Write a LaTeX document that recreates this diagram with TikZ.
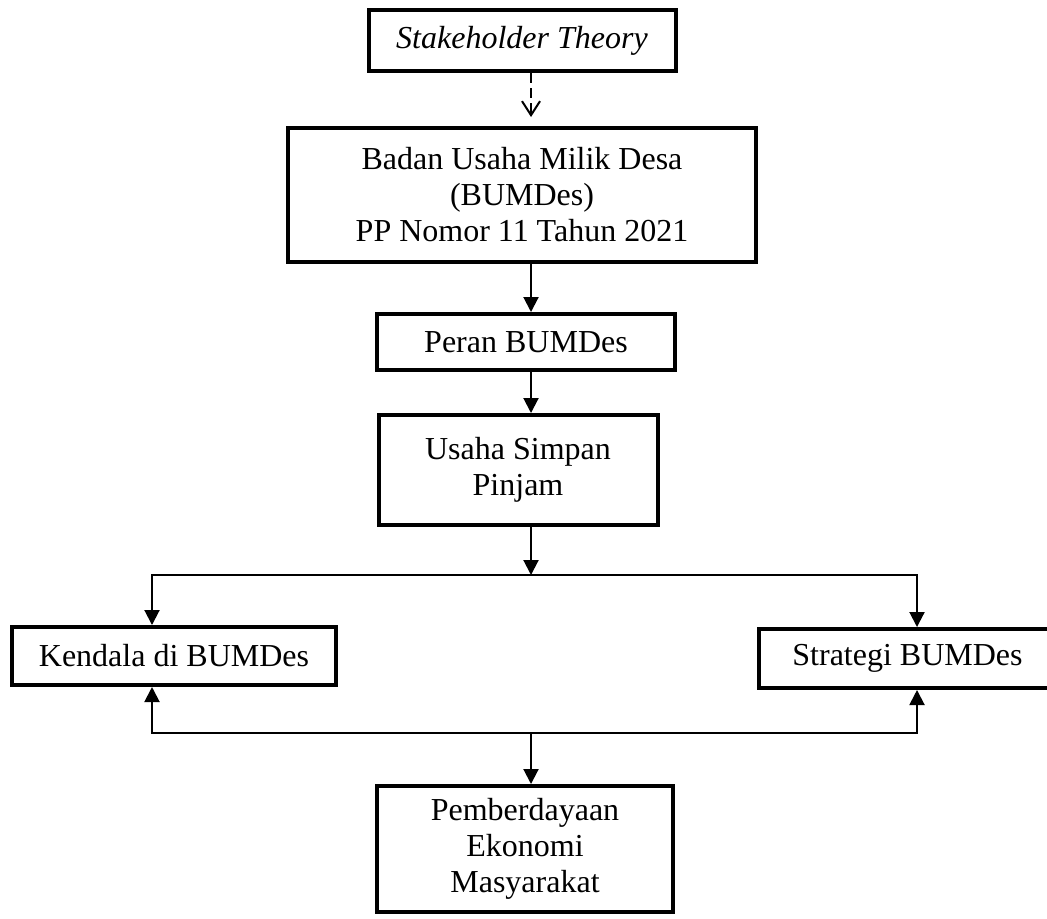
\documentclass[tikz,border=0pt]{standalone}
\usepackage{fontspec}
\setmainfont{Liberation Serif}
\usetikzlibrary{positioning,arrows.meta}

\begin{document}
\begin{tikzpicture}[
        box/.style={draw,line width=2pt,align=center,inner sep=2pt,font=\fontsize{16}{18}\selectfont},
        flow/.style={-{Triangle[length=7.5pt,width=7.5pt]},line width=1pt},
        hint/.style={-{Straight Barb[length=7pt,width=9pt]},line width=1pt,dash pattern=on 5pt off 2.5pt,shorten >=4.5pt},
        node distance=24pt]
        \clip (0,0) rectangle (523.5pt,-459pt);
        \coordinate (spine) at (265.5pt,0);
        \coordinate (colL) at (76pt,0);
        \coordinate (colR) at (458.5pt,0);
        \node[box,minimum width=153.5pt,minimum height=30.5pt] (theory) at (261pt,-20.25pt) {\textit{Stakeholder Theory}};
        \node[box,minimum width=234pt,minimum height=67pt,below=26.5pt of theory] (badan) {Badan Usaha Milik Desa\\(BUMDes)\\PP Nomor 11 Tahun 2021};
        \node[box,minimum width=149pt,minimum height=28pt,below=of badan,xshift=2pt] (peran) {Peran BUMDes};
        \node[box,minimum width=139.5pt,minimum height=55pt,below=20.5pt of peran,xshift=-4pt] (usaha) {Usaha Simpan\\Pinjam};
        \coordinate (split) at ([yshift=-24pt]usaha.south -| spine);
        \node[box,minimum width=162pt,minimum height=29pt,below=25pt of split,xshift=-178.5pt] (kendala) {Kendala di BUMDes};
        \node[box,minimum width=148.5pt,minimum height=29.5pt,below=26pt of split,xshift=188.25pt] (strategi) {Strategi BUMDes};
        \coordinate (merge) at ([yshift=-23pt]kendala.south -| spine);
        \node[box,minimum width=148pt,minimum height=63pt,below=25.5pt of merge,xshift=-3pt] (pember) {Pemberdayaan\\Ekonomi\\Masyarakat};
        \draw[hint] (theory.south -| spine) -- (badan.north -| spine);
        \draw[flow] (badan.south -| spine) -- (peran.north -| spine);
        \draw[flow] (peran.south -| spine) -- (usaha.north -| spine);
        \draw[flow] (usaha.south -| spine) -- (split);
        \draw[flow] (split) -| (kendala.north -| colL);
        \draw[flow] (split) -| (strategi.north -| colR);
        \draw[flow] (merge) -| (kendala.south -| colL);
        \draw[flow] (merge) -| (strategi.south -| colR);
        \draw[flow] (merge) -- (pember.north -| merge);
    \end{tikzpicture}
\end{document}
